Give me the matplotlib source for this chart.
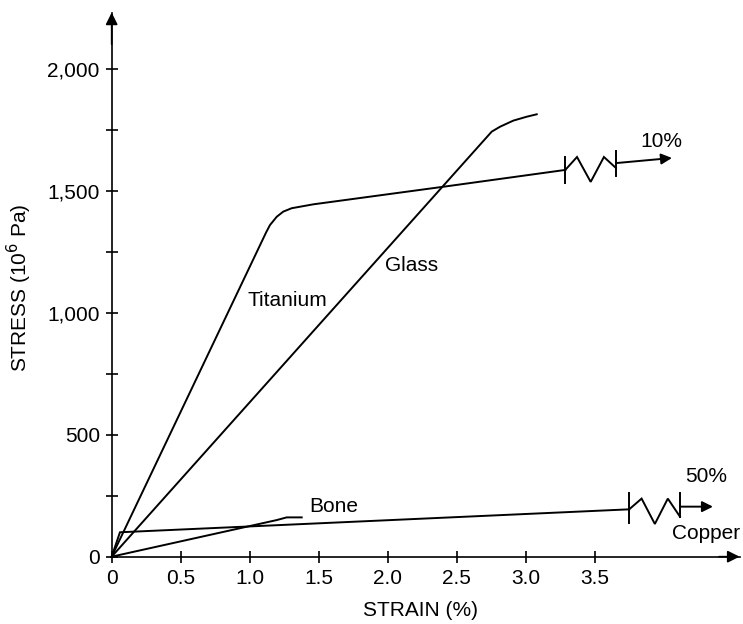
import matplotlib
matplotlib.use("Agg")
import matplotlib.pyplot as plt

plt.rcParams['font.family'] = ['Liberation Sans', 'DejaVu Sans']

# curves (strain %, stress 10^6 Pa)
titanium_x = [0, 1.12, 1.147, 1.196, 1.243, 1.304, 1.461, 2.403, 3.287]
titanium_y = [0, 1330, 1359, 1393, 1414, 1428, 1444, 1516, 1585]
glass_x = [0, 2.754, 2.814, 2.910, 3.007, 3.080]
glass_y = [0, 1742, 1762, 1787, 1803, 1813]
copper_x = [0, 0.06, 3.75]
copper_y = [0, 100, 194]
bone_x = [0, 1.196, 1.268, 1.377]
bone_y = [0, 150, 161, 161]

# break symbols
ti_bar1_x = [3.287, 3.287]
ti_bar1_y = [1531, 1638]
ti_zig_x = [3.287, 3.372, 3.471, 3.567, 3.654]
ti_zig_y = [1585, 1638, 1536, 1638, 1593]
ti_bar2_x = [3.654, 3.654]
ti_bar2_y = [1560, 1662]
ti_arrow = [(3.654, 1613), (4.06, 1634)]

cu_bar1_x = [3.75, 3.75]
cu_bar1_y = [137, 260]
cu_zig_x = [3.75, 3.84, 3.936, 4.03, 4.118]
cu_zig_y = [194, 238, 134, 238, 164]
cu_bar2_x = [4.118, 4.118]
cu_bar2_y = [164, 260]
cu_arrow = [(4.118, 205), (4.357, 205)]

xticks = [0, 0.5, 1.0, 1.5, 2.0, 2.5, 3.0, 3.5]
xlabels = ["0", "0.5", "1.0", "1.5", "2.0", "2.5", "3.0", "3.5"]
yticks = [0, 500, 1000, 1500, 2000]
ylabels = ["0", "500", "1,000", "1,500", "2,000"]
yminor = [250, 750, 1250, 1750]

fs = 15
lw = 1.4

fig = plt.figure(figsize=(7.43, 6.24), dpi=100)
ax = fig.add_axes([0.1503, 0.1079, 0.8451, 0.872])
ax.set_xlim(0, 4.55)
ax.set_ylim(0, 2230)

for xs, ys in [(titanium_x, titanium_y), (glass_x, glass_y), (copper_x, copper_y),
               (bone_x, bone_y), (ti_bar1_x, ti_bar1_y), (ti_zig_x, ti_zig_y),
               (ti_bar2_x, ti_bar2_y), (cu_bar1_x, cu_bar1_y), (cu_zig_x, cu_zig_y),
               (cu_bar2_x, cu_bar2_y)]:
    ax.plot(xs, ys, color="black", linewidth=lw, clip_on=False, solid_joinstyle="miter")

for a in [ti_arrow, cu_arrow]:
    ax.annotate("", xy=a[1], xytext=a[0],
                arrowprops=dict(arrowstyle="-|>", color="black", lw=lw, mutation_scale=16,
                                shrinkA=0, shrinkB=0))

ax.text(1.27, 1049, "Titanium", fontsize=fs, ha="center", va="center")
ax.text(2.17, 1193, "Glass", fontsize=fs, ha="center", va="center")
ax.text(1.607, 204, "Bone", fontsize=fs, ha="center", va="center")
ax.text(3.98, 1702, "10%", fontsize=fs, ha="center", va="center")
ax.text(4.31, 328, "50%", fontsize=fs, ha="center", va="center")
ax.text(4.31, 93, "Copper", fontsize=fs, ha="center", va="center")

# axes with arrow heads
ax.spines['top'].set_visible(False)
ax.spines['right'].set_visible(False)
ax.spines['left'].set_linewidth(1.2)
ax.spines['bottom'].set_linewidth(1.2)
ax.annotate("", xy=(0, 2230), xytext=(0, 2100),
            arrowprops=dict(arrowstyle="-|>", color="black", lw=1.2, mutation_scale=18,
                            shrinkA=0, shrinkB=0), annotation_clip=False)
ax.annotate("", xy=(4.55, 0), xytext=(4.4, 0),
            arrowprops=dict(arrowstyle="-|>", color="black", lw=1.2, mutation_scale=18,
                            shrinkA=0, shrinkB=0), annotation_clip=False)

ax.set_xticks(xticks)
ax.set_xticklabels(xlabels, fontsize=fs)
ax.set_yticks(yticks)
ax.set_yticklabels(ylabels, fontsize=fs)
ax.set_yticks(yminor, minor=True)
ax.tick_params(axis="x", direction="inout", length=8, width=1.2, pad=5)
ax.tick_params(axis="y", which="both", direction="inout", length=9, width=1.2, pad=4)

fig.text(420.6 / 743, 1 - 611 / 624, "STRAIN (%)", fontsize=fs, ha="center", va="center")
fig.text(19 / 743, 1 - 288 / 624, "STRESS (10$^6$ Pa)", fontsize=fs, ha="center",
         va="center", rotation=90)

fig.savefig("out.png", dpi=100)
